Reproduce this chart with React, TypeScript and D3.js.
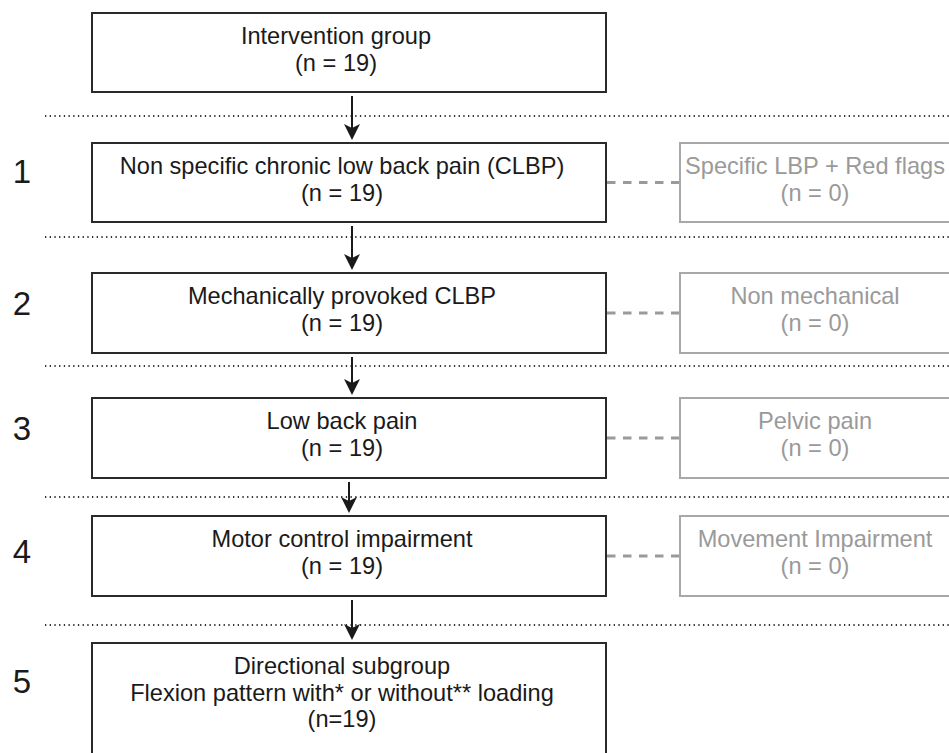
import React from "react";
import * as d3 from "d3";

// stage numbers shown on the left of each screening step
const stageNumbers = ["1", "2", "3", "4", "5"];

// boxes down the main path (first one is the whole group)
const includedTitles = [
  ["Intervention group"],
  ["Non specific chronic low back pain (CLBP)"],
  ["Mechanically provoked CLBP"],
  ["Low back pain"],
  ["Motor control impairment"],
  ["Directional subgroup", "Flexion pattern with* or without** loading"],
];
const includedCounts = ["(n = 19)", "(n = 19)", "(n = 19)", "(n = 19)", "(n = 19)", "(n=19)"];

// excluded side boxes for steps 1-4
const excludedTitles = ["Specific LBP + Red flags", "Non mechanical", "Pelvic pain", "Movement Impairment"];
const excludedCounts = ["(n = 0)", "(n = 0)", "(n = 0)", "(n = 0)"];

const W = 949;
const H = 753;
const FONT = "'Liberation Sans', Arial, Helvetica, sans-serif";

// layout (pixels)
const rowTop = [13, 143, 273, 398, 516, 643];
const rowH = [79, 79, 80, 80, 80, 140];
const dividerY = [116, 237, 366, 497, 625];
const numberBaseline = [183, 315, 440, 563, 693];
const main = { x0: 92, x1: 606, cx: 342 };
const side = { x0: 680, x1: 952, cx: 815 };
const arrowX = [352, 352, 352, 349, 352];

const line = d3.line<[number, number]>();

const Arrow = ({ x, y0, y1 }: { x: number; y0: number; y1: number }) => {
  const head = d3.path();
  head.moveTo(x, y1);
  head.lineTo(x - 8, y1 - 16);
  head.lineTo(x, y1 - 12);
  head.lineTo(x + 8, y1 - 16);
  head.closePath();
  return (
    <g>
      <path d={line([[x, y0], [x, y1 - 8]]) || ""} stroke="#1a1a1a" strokeWidth={2} fill="none" />
      <path d={head.toString()} fill="#1a1a1a" />
    </g>
  );
};

const BoxText = ({ lines, cx, top, color }: { lines: string[]; cx: number; top: number; color: string }) => (
  <text x={cx} y={top} textAnchor="middle" fontFamily={FONT} fontSize={23.6} fill={color}>
    {lines.map((l, i) => (
      <tspan key={i} x={cx} dy={i === 0 ? 31 : 26.5}>{l}</tspan>
    ))}
  </text>
);

export default function App() {
  return (
    <svg
      width={W}
      height={H}
      viewBox={`0 0 ${W} ${H}`}
      style={{ position: "absolute", left: 0, top: 0, background: "#fff" }}
    >
      {/* dotted step separators */}
      {dividerY.map((y, i) => (
        <path
          key={"d" + i}
          d={line([[45, y], [W + 5, y]]) || ""}
          stroke="#333"
          strokeWidth={2.2}
          strokeDasharray="1.3 3.4"
          fill="none"
        />
      ))}

      {/* arrows between main boxes */}
      {arrowX.map((x, i) => (
        <Arrow key={"a" + i} x={x} y0={rowTop[i] + rowH[i] + 4} y1={rowTop[i + 1] - 3} />
      ))}

      {/* main boxes */}
      {includedTitles.map((t, i) => (
        <g key={"m" + i}>
          <rect
            x={main.x0}
            y={rowTop[i]}
            width={main.x1 - main.x0}
            height={rowH[i]}
            fill="#fff"
            stroke="#2a2a2a"
            strokeWidth={2}
          />
          <BoxText lines={[...t, includedCounts[i]]} cx={i === 0 ? 336 : main.cx} top={rowTop[i]} color="#1a1a1a" />
        </g>
      ))}

      {/* excluded boxes + dashed links */}
      {excludedTitles.map((t, i) => {
        const r = i + 1;
        const cy = rowTop[r] + rowH[r] / 2;
        return (
          <g key={"s" + i}>
            <path
              d={line([[main.x1 + 1, cy], [side.x0, cy]]) || ""}
              stroke="#9a9a9a"
              strokeWidth={3.2}
              strokeDasharray="8.5 7.5"
              fill="none"
            />
            <rect
              x={side.x0}
              y={rowTop[r]}
              width={side.x1 - side.x0}
              height={rowH[r]}
              fill="#fff"
              stroke="#a8a8a8"
              strokeWidth={2}
            />
            <BoxText lines={[t, excludedCounts[i]]} cx={side.cx} top={rowTop[r]} color="#9a9a9a" />
          </g>
        );
      })}

      {/* stage numbers */}
      {stageNumbers.map((n, i) => (
        <text key={"n" + i} x={22} y={numberBaseline[i]} textAnchor="middle" fontFamily={FONT} fontSize={33} fill="#1a1a1a">
          {n}
        </text>
      ))}
    </svg>
  );
}
